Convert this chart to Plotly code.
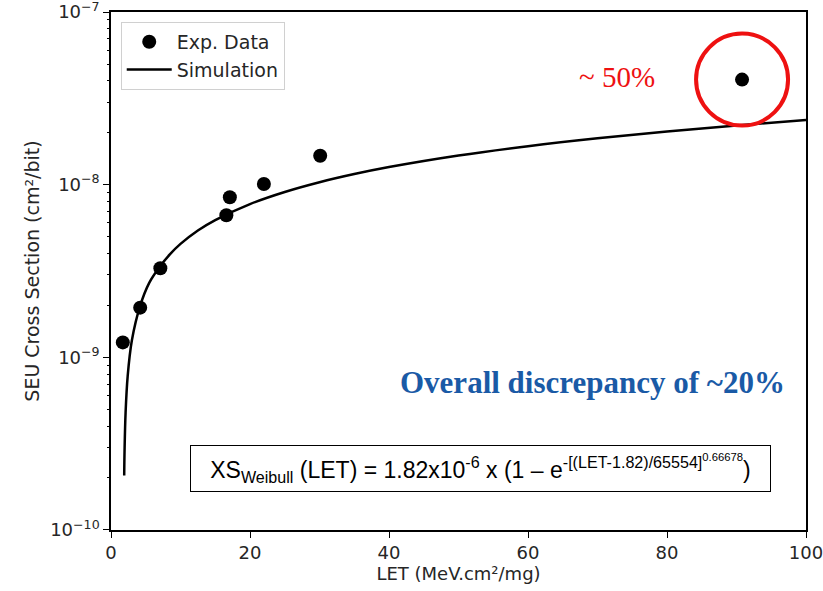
import plotly.graph_objects as go

exp_let = [1.7, 4.2, 7.1, 16.6, 17.1, 22.0, 30.1, 90.8]
exp_xs = [1.22e-9, 1.94e-9, 3.28e-9, 6.65e-9, 8.45e-9, 1.01e-8, 1.47e-8, 4.06e-8]

# Simulation curve
sim_let = [1.9, 1.95, 2.1, 2.4, 3.0, 4.2, 5.5, 7.0, 8.5, 10.0, 12.5, 15.0, 20.0, 25.0, 30.0, 35.0, 40.0,
           50.0, 60.0, 70.0, 80.0, 90.0, 100.0]
sim_xs = [2.07e-10, 2.87e-10, 4.78e-10, 7.78e-10, 1.25e-9, 1.99e-9, 2.70e-9, 3.34e-9, 3.96e-9, 4.54e-9,
          5.43e-9, 6.24e-9, 7.72e-9, 9.07e-9, 1.033e-8, 1.152e-8, 1.265e-8,
          1.476e-8, 1.672e-8, 1.857e-8, 2.033e-8, 2.203e-8, 2.37e-8]

x_ticks = [0, 20, 40, 60, 80, 100]
y_major = [1e-10, 1e-9, 1e-8, 1e-7]
y_major_text = ["10<sup>−10</sup>", "10<sup>−9</sup>", "10<sup>−8</sup>", "10<sup>−7</sup>"]
y_minor = [m * 10.0 ** e for e in (-10, -9, -8) for m in range(2, 10)]

highlight_let = [90.8]
highlight_xs = [4.06e-8]

FONT = "DejaVu Sans"
TXT = "#262626"
Y_RANGE = [-10.0002, -6.9998]

fig = go.Figure()
fig.add_trace(go.Scatter(x=exp_let, y=exp_xs, mode="markers", name="Exp. Data",
                         marker=dict(color="black", size=14)))
fig.add_trace(go.Scatter(x=sim_let, y=sim_xs, mode="lines", name="Simulation",
                         line=dict(color="black", width=2.5, shape="spline", smoothing=1.0)))
fig.add_trace(go.Scatter(x=highlight_let, y=highlight_xs, mode="markers", showlegend=False,
                         marker=dict(symbol="circle-open", size=92, color="#ee1111",
                                     line=dict(color="#ee1111", width=4)),
                         hoverinfo="skip"))
# minor ticks axis
fig.add_trace(go.Scatter(x=[None], y=[None], yaxis="y2", showlegend=False))

fig.update_layout(
    width=823, height=591,
    margin=dict(l=111, r=17, t=12, b=61),
    paper_bgcolor="white", plot_bgcolor="white",
    font=dict(family=FONT, size=17, color=TXT),
    showlegend=True,
    legend=dict(x=0.014, y=0.981, xanchor="left", yanchor="top",
                bordercolor="#d0d0d0", borderwidth=1, bgcolor="white",
                font=dict(family=FONT, size=19, color=TXT),
                itemwidth=45, tracegroupgap=0),
    xaxis=dict(range=[0, 100.0001], tickvals=x_ticks, ticks="outside", ticklen=6,
               tickcolor="black", showline=True, linecolor="black", linewidth=1.5,
               mirror=True, showgrid=False, zeroline=False, automargin=False,
               ticklabeloverflow="allow",
               tickfont=dict(family=FONT, size=18, color=TXT),
               title=dict(text="LET (MeV.cm²/mg)", font=dict(family=FONT, size=18, color=TXT),
                          standoff=4)),
    yaxis=dict(type="log", range=Y_RANGE, tickvals=y_major, ticktext=y_major_text,
               ticks="outside", ticklen=6, tickcolor="black", showline=True,
               linecolor="black", linewidth=1.5, mirror=True, showgrid=False, zeroline=False,
               automargin=False, ticklabeloverflow="allow",
               tickfont=dict(family=FONT, size=18, color=TXT),
               title=dict(text="SEU Cross Section (cm²/bit)",
                          font=dict(family=FONT, size=19, color=TXT), standoff=6)),
    yaxis2=dict(type="log", range=Y_RANGE, overlaying="y", side="left",
                tickvals=y_minor, ticks="outside", ticklen=3, tickcolor="black",
                showticklabels=False, showgrid=False, zeroline=False, showline=False,
                automargin=False),
)

fig.add_annotation(x=0.728, y=0.8745, xref="paper", yref="paper", text="~ 50%",
                   showarrow=False, xanchor="center", yanchor="middle",
                   font=dict(family="Liberation Serif", size=29, color="#ee1111"))
fig.add_annotation(x=0.9727, y=0.2838, xref="paper", yref="paper",
                   text="<b>Overall discrepancy of ~20%</b>",
                   showarrow=False, xanchor="right", yanchor="middle",
                   font=dict(family="Liberation Serif", size=31, color="#1a5aa6"))
fig.add_annotation(x=0.5317, y=0.1187, xref="paper", yref="paper",
                   text="XS<sub>Weibull</sub> (LET) = 1.82x10<sup>-6</sup> x (1 – e<sup>-[(LET-1.82)/65554]<sup>0.66678</sup></sup>)",
                   showarrow=False, xanchor="center", yanchor="middle",
                   width=573, height=39, align="center",
                   bordercolor="black", borderwidth=1, borderpad=3, bgcolor="white",
                   font=dict(family="Liberation Sans", size=23, color="black"))

fig.write_html("out.html")
